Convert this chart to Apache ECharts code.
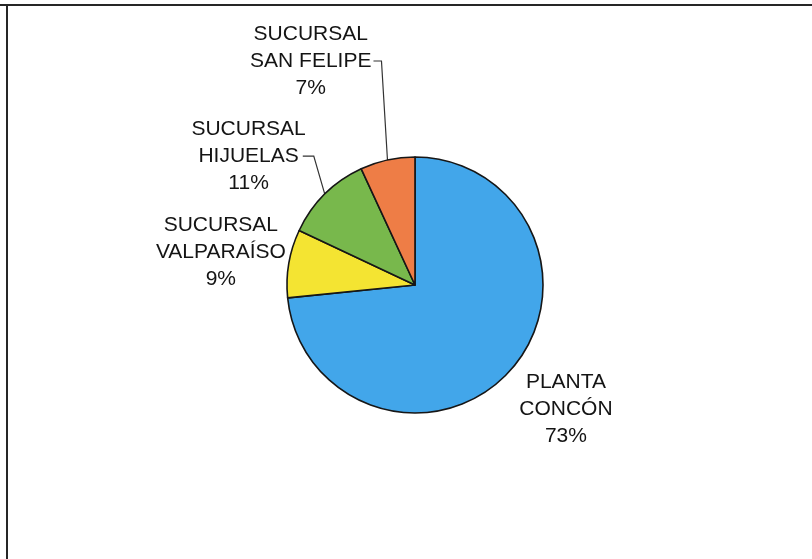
<!DOCTYPE html>
<html>
<head>
<meta charset="utf-8">
<script src="https://cdn.jsdelivr.net/npm/echarts@6/dist/echarts.min.js"></script>
<style>
  html, body { margin: 0; padding: 0; background: #ffffff; }
  #chart { width: 812px; height: 559px; }
</style>
</head>
<body>
<div id="chart"></div>
<script>
// ---- data ----
const categories = [
  'PLANTA\nCONCÓN',
  'SUCURSAL\nVALPARAÍSO',
  'SUCURSAL\nHIJUELAS',
  'SUCURSAL\nSAN FELIPE'
];
const shares = [73.4, 8.6, 11.1, 6.9];
const sliceColors = ['#42A6EA', '#F4E432', '#78B84C', '#EE7D46'];

// ---- label placement relative to each slice's edge point (layout only) ----
const labelPlacement = [
  { dx: 56, dy: 38, align: 'center', line: null },
  { dx: -3, dy: -11, align: 'right', line: null },
  { dx: -19, dy: -38, align: 'right', line: [[-11, -38], [-22, -38]] },
  { dx: -16, dy: -99, align: 'right', line: [[-6, -99], [-14, -99]] }
];

const chart = echarts.init(document.getElementById('chart'), null, { renderer: 'canvas' });

const option = {
  backgroundColor: '#ffffff',
  animation: false,
  graphic: [
    { type: 'line', shape: { x1: 0, y1: 5, x2: 812, y2: 5 }, style: { stroke: '#262626', lineWidth: 2 } },
    { type: 'line', shape: { x1: 7, y1: 5, x2: 7, y2: 559 }, style: { stroke: '#262626', lineWidth: 2 } }
  ],
  series: [{
    type: 'pie',
    center: [415, 285],
    radius: 128,
    startAngle: 90,
    clockwise: true,
    avoidLabelOverlap: false,
    percentPrecision: 0,
    itemStyle: { borderColor: '#161616', borderWidth: 1.6 },
    label: {
      show: true,
      position: 'outside',
      alignTo: 'none',
      fontFamily: 'Liberation Sans, Arial, sans-serif',
      fontSize: 21,
      color: '#141414',
      lineHeight: 27,
      formatter: function (p) {
        const lines = p.name.split('\n');
        lines.push(p.percent + '%');
        return lines.map(function (s) { return '{a|' + s + '}'; }).join('\n');
      },
      rich: {
        a: {
          align: 'center',
          fontFamily: 'Liberation Sans, Arial, sans-serif',
          fontSize: 21,
          lineHeight: 27,
          color: '#141414'
        }
      }
    },
    labelLine: {
      show: true,
      length: 20,
      length2: 10,
      minTurnAngle: 0,
      lineStyle: { color: '#333333', width: 1.2 }
    },
    labelLayout: function (params) {
      const pl = labelPlacement[params.dataIndex];
      const pts = params.labelLinePoints;
      if (!pts || !pts[0]) return {};
      const e = pts[0];
      const res = {
        x: e[0] + pl.dx,
        y: e[1] + pl.dy,
        align: pl.align,
        verticalAlign: 'middle'
      };
      if (pl.line) {
        res.labelLinePoints = [
          [e[0], e[1]],
          [e[0] + pl.line[0][0], e[1] + pl.line[0][1]],
          [e[0] + pl.line[1][0], e[1] + pl.line[1][1]]
        ];
      } else {
        res.labelLinePoints = [[e[0], e[1]], [e[0], e[1]], [e[0], e[1]]];
      }
      return res;
    },
    data: categories.map(function (name, i) {
      return {
        name: name,
        value: shares[i],
        itemStyle: { color: sliceColors[i] }
      };
    })
  }]
};

chart.setOption(option);
</script>
</body>
</html>
